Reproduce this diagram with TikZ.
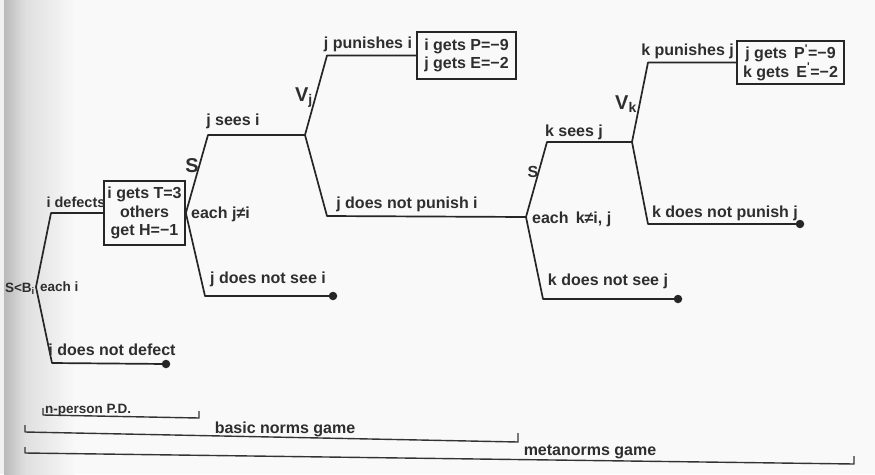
\documentclass[tikz,border=0pt]{standalone}
\usepackage{fontspec}
\setmainfont{Liberation Sans}
\newcommand{\pr}{\textsuperscript{\textquotesingle}}
\begin{document}
\begin{tikzpicture}[x=1pt,y=-1pt,
  br/.style={line width=1.7pt, draw=black!85, line join=round},
  lbl/.style={inner sep=0pt, font=\bfseries\fontsize{16}{18.5}\selectfont, text=black!82},
  small/.style={inner sep=0pt, font=\bfseries\fontsize{13.5}{16}\selectfont, text=black!82},
  big/.style={inner sep=0pt, font=\bfseries\fontsize{20}{23}\selectfont, text=black!82},
  paybox/.style={draw=black!85, line width=1.7pt, inner sep=0pt, align=center,
    font=\bfseries\fontsize{16}{18.5}\selectfont, text=black!82},
  endpt/.style={circle, fill=black!85, inner sep=0pt, minimum size=8.5pt},
  span/.style={line width=1.4pt, draw=black!80, line join=round},
]
% paper and the darker left margin
\fill[gray!5] (0,0) rectangle (875,474);
\fill[gray!12] (0,0) rectangle (4,474);
\shade[left color=gray!55, right color=gray!25] (4,0) rectangle (25,474);
\shade[left color=gray!25, right color=gray!5] (25,0) rectangle (75,474);
\useasboundingbox (0,0) rectangle (875,474);

% ---- first stage: i decides whether to defect ----
\coordinate (root) at (36,287);
\coordinate (defTop) at (51,213);
\coordinate (noDef) at (52,363);
\node[endpt] (e1) at (166,364) {};
\node[paybox, minimum width=81pt, minimum height=64pt] (pay1) at (144.5,213)
  {i gets T=3\\others\\get H=−1};
\draw[br] (root) -- (defTop) -- (pay1.west);
\draw[br] (root) -- (noDef) -- (e1.center);

\node[small, font=\bfseries\fontsize{14.5}{16}\selectfont] (lDef) at (76,202) {i defects};
\node[small, anchor=east] (lSB) at (35,289) {S<B\textsubscript{i}};
\node[small, anchor=west] (lEachI) at (40,287) {each i};
\node[lbl] (lNoDef) at (112,350) {i does not defect};

% ---- second stage: j sees and may punish i ----
\coordinate (seeTop) at (208,135);
\coordinate (vj) at (305,135);
\coordinate (noSee) at (205,296);
\node[endpt] (e2) at (333,296) {};
\draw[br] (pay1.east) -- (seeTop) -- (vj);
\draw[br] (pay1.east) -- (noSee) -- (e2.center);

\coordinate (punTop) at (327,55.5);
\node[paybox, minimum width=99pt, minimum height=47pt] (pay2) at (466.5,55.5)
  {i gets P=−9\\j gets E=−2};
\coordinate (notPun) at (327,216);
\coordinate (mv) at (526,217);
\draw[br] (vj) -- (punTop) -- (pay2.west);
\draw[br] (vj) -- (notPun) -- (mv);

\node[big] (lS1) at (192,166) {S};
\node[lbl] (lSees) at (233,121) {j sees i};
\node[lbl, anchor=west] (lEachJ) at (191,214) {each j≠i};
\node[lbl] (lNoSee) at (268,279) {j does not see i};
\node[big] (lVj) at (304,98) {V\textsubscript{j}};
\node[lbl] (lPun) at (368,44) {j punishes i};
\node[lbl] (lNotPun) at (407,204) {j does not punish i};

% ---- third stage: k sees j and may punish j ----
\coordinate (ksTop) at (547,142);
\coordinate (vk) at (632,142);
\coordinate (knsBot) at (543,299);
\node[endpt] (e4) at (678,299) {};
\draw[br] (mv) -- (ksTop) -- (vk);
\draw[br] (mv) -- (knsBot) -- (e4.center);

\coordinate (kpTop) at (648,62.5);
\node[paybox, minimum width=107pt, minimum height=43pt] (pay3) at (790.5,62.5)
  {j gets \,P\pr=−9\\k gets \,E\pr=−2};
\coordinate (knpBot) at (648,224);
\node[endpt] (e3) at (800,224) {};
\draw[br] (vk) -- (kpTop) -- (pay3.west);
\draw[br] (vk) -- (knpBot) -- (e3.center);

\node[lbl] (lS2) at (533,172) {S};
\node[lbl, anchor=west] (lEachK) at (532,219) {each \,k≠i, j};
\node[lbl] (lKsees) at (574,132) {k sees j};
\node[lbl] (lKnoSee) at (608,281) {k does not see j};
\node[big] (lVk) at (626,104) {V\textsubscript{k}};
\node[lbl, anchor=east] (lKpun) at (734,51) {k punishes j};
\node[lbl] (lKnotPun) at (725,213) {k does not punish j};

% ---- spans of the three games ----
\coordinate (pdA) at (43,408);
\coordinate (pdB) at (43,415);
\coordinate (pdC) at (199,418);
\coordinate (pdD) at (199,411);
\draw[span] (pdA) -- (pdB) -- (pdC) -- (pdD);
\node[small, anchor=west] (lPD) at (45,410) {n-person P.D.};

\coordinate (bnA) at (25,425);
\coordinate (bnB) at (25,432);
\coordinate (bnC) at (518,442);
\coordinate (bnD) at (518,433);
\draw[span] (bnA) -- (bnB) -- (bnC) -- (bnD);
\node[lbl] (lBN) at (285,429) {basic norms game};

\coordinate (mnA) at (25,447);
\coordinate (mnB) at (25,453);
\coordinate (mnC) at (854,464);
\coordinate (mnD) at (854,456);
\draw[span] (mnA) -- (mnB) -- (mnC) -- (mnD);
\node[lbl] (lMN) at (590,452) {metanorms game};
\end{tikzpicture}
\end{document}
